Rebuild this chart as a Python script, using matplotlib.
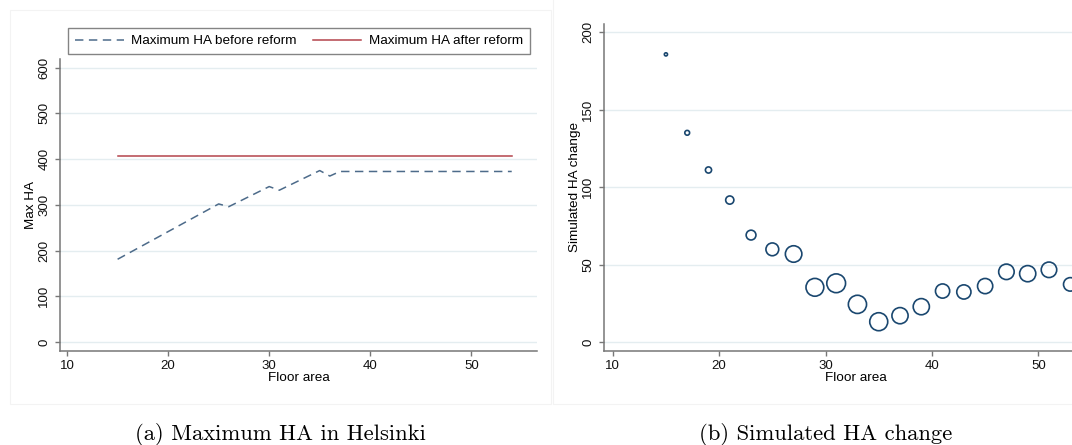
import matplotlib
matplotlib.use("Agg")
import matplotlib.pyplot as plt
from matplotlib.patches import Rectangle
from matplotlib.lines import Line2D

# ---------------- data ----------------
# Panel (a): maximum housing allowance in Helsinki
floor_area_a = [15, 25, 26, 30, 31, 35, 36, 37, 54]
max_ha_before = [181, 302, 296, 340, 332, 375, 363, 373, 373]
floor_area_after = [15, 54]
max_ha_after = [406, 406]

# Panel (b): simulated HA change (marker area ~ number of observations)
floor_area_b = [15, 17, 19, 21, 23, 25, 27, 29, 31, 33, 35, 37, 39, 41, 43, 45, 47, 49, 51, 53]
ha_change = [185.8, 135.2, 111.2, 91.8, 69.2, 60.0, 57.0, 35.5, 38.1, 24.5,
             13.3, 17.2, 23.0, 33.1, 32.5, 36.3, 45.5, 44.3, 46.8, 37.4]
obs_weight = [10, 23, 38, 67, 96, 164, 272, 317, 353, 331,
              324, 262, 262, 202, 202, 231, 240, 262, 240, 182]

xticks = [10, 20, 30, 40, 50]
yticks_a = [0, 100, 200, 300, 400, 500, 600]
yticks_b = [0, 50, 100, 150, 200]

legend_labels = ["Maximum HA before reform", "Maximum HA after reform"]
caption_a = "(a) Maximum HA in Helsinki"
caption_b = "(b) Simulated HA change"

# ---------------- style ----------------
W, H = 1072, 445
plt.rcParams["font.family"] = ["Liberation Sans", "DejaVu Sans"]
BLUE = "#4d6b8a"
NAVY = "#1a476f"
RED = "#b4444c"
SPINE = "#777777"
GRID = "#e4edf0"
DASH = (5.5, 3.6)

fig = plt.figure(figsize=(W / 100, H / 100), dpi=100)

def fx(px):
    return px / W

def fy(py):
    return 1 - py / H

# faint graph-region frames
fig.patches.append(Rectangle((fx(10), fy(404)), fx(541), 394 / H, transform=fig.transFigure,
                             fill=False, edgecolor="#f3f3f3", lw=0.8))
fig.patches.append(Rectangle((fx(553), fy(404)), fx(560), 420 / H, transform=fig.transFigure,
                             fill=False, edgecolor="#f3f3f3", lw=0.8))

def style_axes(ax):
    for s in ["top", "right"]:
        ax.spines[s].set_visible(False)
    for s in ["left", "bottom"]:
        ax.spines[s].set_color(SPINE)
        ax.spines[s].set_linewidth(1.1)
    ax.tick_params(axis="both", colors=SPINE, length=3.5, width=1.0, labelsize=9.5,
                   labelcolor="#111111")
    ax.tick_params(axis="x", pad=3)
    ax.tick_params(axis="y", pad=3.5, labelrotation=90)
    for lbl in ax.get_yticklabels():
        lbl.set_va("center")
    ax.grid(axis="y", color=GRID, lw=1.0)
    ax.set_axisbelow(True)
    ax.set_xlabel("Floor area", fontsize=9.7, labelpad=0)

# ---------------- panel (a) ----------------
axa = fig.add_axes([fx(60), fy(350.7), fx(537 - 60), (350.7 - 59) / H])
axa.plot(floor_area_a, max_ha_before, color=BLUE, lw=1.1, dashes=DASH)
axa.plot(floor_area_after, max_ha_after, color=RED, lw=1.1)
axa.set_xlim(9.3, 56.5)
axa.set_ylim(-19, 619)
axa.set_xticks(xticks)
axa.set_yticks(yticks_a)
style_axes(axa)
axa.set_ylabel("Max HA", fontsize=9.7, labelpad=1)

handles = [Line2D([], [], color=BLUE, lw=1.1, dashes=DASH),
           Line2D([], [], color=RED, lw=1.1)]
leg = fig.legend(handles, legend_labels, loc="center", bbox_to_anchor=(fx(299), fy(41)),
                 ncol=2, fontsize=9.7, frameon=True, fancybox=False, handlelength=3.6,
                 handletextpad=0.55, columnspacing=1.2, borderpad=0.5, borderaxespad=0)
leg.get_frame().set_edgecolor("#666666")
leg.get_frame().set_linewidth(1.0)

# ---------------- panel (b) ----------------
axb = fig.add_axes([fx(604), fy(350.7), fx(1107.5 - 604), (350.7 - 24) / H])
sizes = [w * 0.518 for w in obs_weight]
axb.scatter(floor_area_b, ha_change, s=sizes, facecolors="none", edgecolors=NAVY,
            linewidths=1.2, zorder=3)
axb.set_xlim(9.18, 56.5)
axb.set_ylim(-5.4, 205.4)
axb.set_xticks(xticks)
axb.set_yticks(yticks_b)
style_axes(axb)
axb.set_ylabel("Simulated HA change", fontsize=9.7, labelpad=1)

# ---------------- captions ----------------
fig.text(fx(280), fy(435), caption_a, ha="center", va="center", fontsize=16.3,
         family=["cmr10", "DejaVu Serif"])
fig.text(fx(826), fy(435), caption_b, ha="center", va="center", fontsize=16.3,
         family=["cmr10", "DejaVu Serif"])

fig.savefig("out.png", dpi=100)
